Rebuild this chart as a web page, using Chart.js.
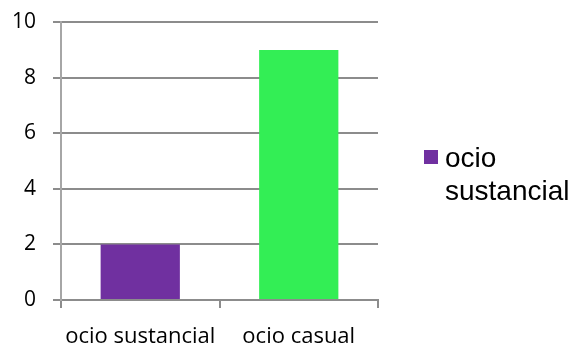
<!DOCTYPE html>
<html>
<head>
  <meta charset="utf-8">
  <title>Ocio</title>
  <script src="https://cdn.jsdelivr.net/npm/chart.js"></script>
  <style>
    html, body { margin: 0; padding: 0; background: #fff; }
  </style>
</head>
<body>
  <canvas id="chart" width="579" height="349"></canvas>

  <script>
    const categories = ['ocio sustancial', 'ocio casual'];
    const values = [2, 9];
    const barColors = ['#7030a0', '#33ee55'];
    const seriesName = 'ocio sustancial';
    const yTicks = { min: 0, max: 10, step: 2 };

    // legend on the right, text wrapped onto two lines like the original sheet
    const sideLegend = {
      id: 'sideLegend',
      afterDraw(chart) {
        const ctx = chart.ctx;
        ctx.save();
        ctx.fillStyle = barColors[0];
        ctx.fillRect(424, 150, 14, 14);
        ctx.fillStyle = '#000';
        ctx.font = '28px "Liberation Sans", Arial, sans-serif';
        ctx.textBaseline = 'alphabetic';
        const lines = seriesName.split(' ');
        lines.forEach((line, i) => ctx.fillText(line, 445, 167 + i * 33));
        ctx.restore();
      }
    };

    window.onload = () => {
      const ctx = document.getElementById('chart').getContext('2d');
      new Chart(ctx, {
        type: 'bar',
        data: {
          labels: categories,
          datasets: [{
            label: seriesName,
            data: values,
            backgroundColor: barColors,
            borderWidth: 0,
            barPercentage: 1,
            categoryPercentage: 0.5
          }]
        },
        options: {
          responsive: false,
          animation: false,
          layout: { padding: { top: 22, right: 201, left: 0, bottom: 0 } },
          plugins: {
            legend: { display: false },
            tooltip: { enabled: false }
          },
          scales: {
            x: {
              grid: {
                display: true,
                drawOnChartArea: false,
                drawTicks: true,
                tickLength: 8,
                tickColor: '#8c8c8c',
                lineWidth: 2,
                offset: true
              },
              border: { color: '#8c8c8c', width: 2 },
              ticks: {
                color: '#000',
                padding: 16,
                font: { family: '"Open Sans", sans-serif', size: 22 }
              },
              afterFit: (s) => { s.height = 49; }
            },
            y: {
              min: yTicks.min,
              max: yTicks.max,
              grid: {
                color: '#8c8c8c',
                lineWidth: 2,
                tickLength: 8,
                drawTicks: true
              },
              border: { color: '#a6a6a6', width: 2 },
              ticks: {
                stepSize: yTicks.step,
                color: '#000',
                padding: 17,
                font: { family: '"Open Sans", sans-serif', size: 21, lineHeight: 0.5 }
              },
              afterFit: (s) => { s.width = 61; }
            }
          }
        },
        plugins: [sideLegend]
      });
    };
  </script>
</body>
</html>
